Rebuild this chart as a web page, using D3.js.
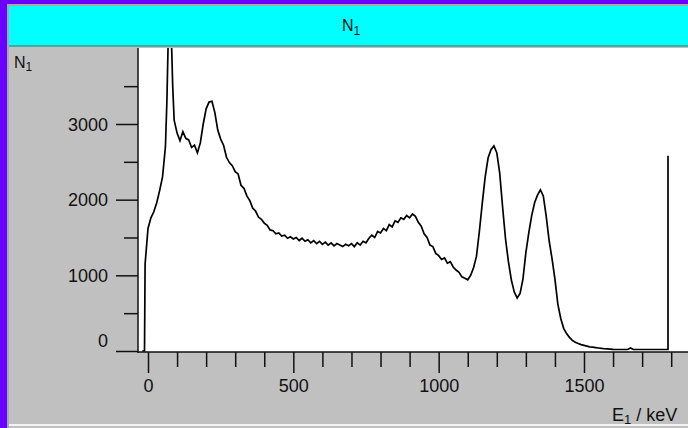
<!DOCTYPE html>
<html>
<head>
<meta charset="utf-8">
<script src="https://cdn.jsdelivr.net/npm/d3@7"></script>
<style>
  html, body { margin: 0; padding: 0; background: #6a00ff; }
  svg { display: block; }
  text { font-family: "Liberation Sans", Arial, sans-serif; fill: #111; }
</style>
</head>
<body>
<svg id="chart" width="688" height="428"></svg>
<script>
// ---- data ----
const energies = [
  -20,-12,-10,0,10,20,30,40,50,60,65,70,75,80,85,90,100,110,120,130,140,150,160,170,180,190,
  200,210,220,230,240,250,260,270,280,290,300,310,320,330,340,350,360,370,380,390,
  400,410,420,430,440,450,460,470,480,490,500,510,520,530,540,550,560,570,580,590,
  600,610,620,630,640,650,660,670,680,690,700,710,720,730,740,750,760,770,780,790,
  800,810,820,830,840,850,860,870,880,890,900,910,920,930,940,950,960,970,980,990,
  1000,1010,1020,1030,1040,1050,1060,1070,1080,1090,1100,1110,1120,1130,1140,1150,1160,1170,1180,1190,
  1200,1210,1220,1230,1240,1250,1260,1270,1280,1290,1300,1310,1320,1330,1340,1350,1360,1370,1380,1390,
  1400,1410,1420,1430,1440,1450,1460,1470,1480,1490,1500,1510,1520,1530,1540,1550,1560,1570,1580,1590,
  1600,1610,1620,1630,1640,1650,1660,1670,1680,1690,1700,1710,1720,1730,1740,1750,1760,1770,1780,1789,1789
];
const counts = [
  0,0,1150,1620,1760,1840,1960,2120,2300,2700,3300,4200,4300,4200,3500,3050,2880,2780,2900,2810,2790,2690,2720,2620,2750,3000,
  3200,3290,3300,3150,2920,2800,2720,2560,2490,2450,2370,2340,2190,2150,2050,1990,1890,1850,1770,1740,
  1690,1660,1600,1590,1550,1560,1520,1530,1490,1510,1480,1500,1460,1490,1450,1470,1430,1460,1420,1450,
  1410,1440,1400,1430,1390,1420,1400,1380,1410,1390,1420,1380,1430,1400,1450,1430,1490,1530,1500,1580,
  1560,1620,1590,1670,1640,1720,1700,1760,1740,1790,1760,1810,1780,1700,1650,1550,1500,1400,1380,1290,
  1260,1210,1230,1160,1180,1110,1070,1040,980,960,940,1000,1100,1250,1580,1950,2300,2550,2660,2710,
  2620,2350,1900,1480,1180,940,780,700,760,950,1300,1560,1790,1960,2060,2130,2050,1780,1460,1220,
  950,620,430,300,230,180,140,115,100,85,75,65,55,50,45,40,35,30,28,25,
  22,20,20,20,20,20,40,20,20,20,20,20,20,20,20,20,20,20,20,20,2580
];
const yMajorTicks = [0, 1000, 2000, 3000];
const yMinorTicks = [500, 1500, 2500, 3500];
const xMajorTicks = [0, 500, 1000, 1500];
const xMinorTicks = [100,200,300,400,600,700,800,900,1100,1200,1300,1400,1600,1700,1800];
const titleMain = "N", titleSub = "1";
const xLabelMain = "E", xLabelSub = "1", xLabelRest = " / keV";

// ---- layout ----
const W = 688, H = 428;
const plotL = 138, plotT = 48, plotR = 688, plotB = 352;

const svg = d3.select("#chart");

// frame
svg.append("rect").attr("x", 0).attr("y", 0).attr("width", W).attr("height", H).attr("fill", "#6a00ff");
svg.append("rect").attr("x", 7).attr("y", 4).attr("width", W - 7).attr("height", H - 4).attr("fill", "#a8a8a8");
svg.append("rect").attr("x", 9).attr("y", 6).attr("width", W - 9).attr("height", H - 6).attr("fill", "#c0c0c0");
svg.append("rect").attr("x", 9).attr("y", 424).attr("width", W - 9).attr("height", 2).attr("fill", "#f4f4f4");

// title bar
svg.append("rect").attr("x", 9).attr("y", 6).attr("width", W - 9).attr("height", 40).attr("fill", "#00ffff");
svg.append("rect").attr("x", 9).attr("y", 45).attr("width", W - 9).attr("height", 2).attr("fill", "#4aa8a8");
const title = svg.append("text").attr("x", 342).attr("y", 31).attr("font-size", 16);
title.append("tspan").text(titleMain);
title.append("tspan").attr("font-size", 12).attr("dy", 4).text(titleSub);

// plot area
svg.append("rect").attr("x", plotL).attr("y", plotT).attr("width", plotR - plotL).attr("height", plotB - plotT).attr("fill", "#ffffff");

// scales
const x = d3.scaleLinear().domain([0, 1500]).range([148, 584]);
const y = d3.scaleLinear().domain([0, 3000]).range([351, 124]);

svg.append("clipPath").attr("id", "clip").append("rect")
  .attr("x", plotL + 1).attr("y", plotT).attr("width", plotR - plotL - 1).attr("height", plotB - plotT);

// spectrum line
const data = energies.map((e, i) => ({ e: e, c: counts[i] }));
const line = d3.line().x(d => x(d.e)).y(d => y(d.c));
svg.append("path").datum(data)
  .attr("clip-path", "url(#clip)")
  .attr("d", line)
  .attr("fill", "none")
  .attr("stroke", "#000")
  .attr("stroke-width", 1.7)
  .attr("stroke-linejoin", "miter");

// y axis
const yAxisMajor = d3.axisLeft(y).tickValues(yMajorTicks).tickSize(22).tickPadding(8).tickFormat(d3.format("d"));
const yAxisMinor = d3.axisLeft(y).tickValues(yMinorTicks).tickSize(14).tickFormat("");
const gy = svg.append("g").attr("transform", `translate(${plotL},0)`).call(yAxisMajor);
const gy2 = svg.append("g").attr("transform", `translate(${plotL},0)`).call(yAxisMinor);
[gy, gy2].forEach(g => {
  g.select(".domain").remove();
  g.selectAll("line").attr("stroke", "#111").attr("stroke-width", 1.5);
});
gy.selectAll("text").attr("font-size", 18).attr("fill", "#111")
  .attr("font-family", "Liberation Sans, Arial, sans-serif")
  .attr("dy", d => d === 0 ? "-0.25em" : "0.34em");

// x axis
const xAxisMajor = d3.axisBottom(x).tickValues(xMajorTicks).tickSize(21).tickPadding(6).tickFormat(d3.format("d"));
const xAxisMinor = d3.axisBottom(x).tickValues(xMinorTicks).tickSize(15).tickFormat("");
const gx = svg.append("g").attr("transform", `translate(0,${plotB})`).call(xAxisMajor);
const gx2 = svg.append("g").attr("transform", `translate(0,${plotB})`).call(xAxisMinor);
[gx, gx2].forEach(g => {
  g.select(".domain").remove();
  g.selectAll("line").attr("stroke", "#111").attr("stroke-width", 1.5);
});
gx.selectAll("text").attr("font-size", 18).attr("fill", "#111")
  .attr("font-family", "Liberation Sans, Arial, sans-serif");

// axis lines
svg.append("line").attr("x1", plotL).attr("x2", plotL).attr("y1", plotT).attr("y2", plotB + 1).attr("stroke", "#111").attr("stroke-width", 1.5);
svg.append("line").attr("x1", plotL).attr("x2", plotR).attr("y1", plotB).attr("y2", plotB).attr("stroke", "#111").attr("stroke-width", 1.5);

// y axis label
const yl = svg.append("text").attr("x", 14).attr("y", 68).attr("font-size", 16);
yl.append("tspan").text(titleMain);
yl.append("tspan").attr("font-size", 12).attr("dy", 3).text(titleSub);

// x axis label
const xl = svg.append("text").attr("x", 612).attr("y", 421).attr("font-size", 18);
xl.append("tspan").text(xLabelMain);
xl.append("tspan").attr("font-size", 13).attr("dy", 3).text(xLabelSub);
xl.append("tspan").attr("dy", -3).text(xLabelRest);
</script>
</body>
</html>
